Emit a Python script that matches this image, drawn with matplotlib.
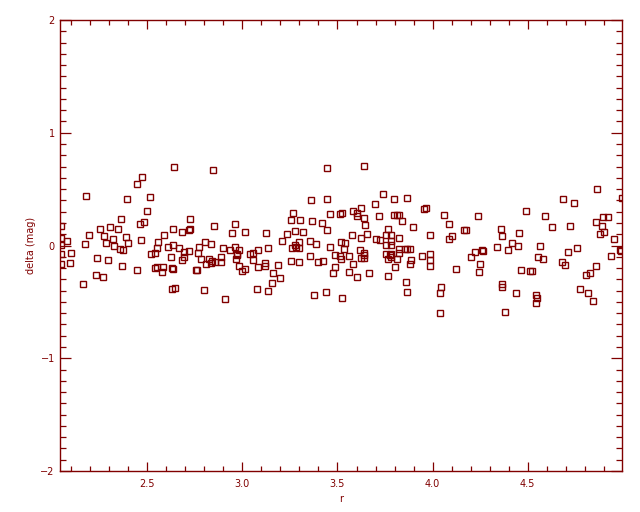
import matplotlib
matplotlib.use("Agg")
import matplotlib.pyplot as plt
from matplotlib.ticker import MultipleLocator, FixedLocator

# ---- data ----
r = [
    # 2.0 - 2.5
    2.474, 2.447, 2.179, 2.395, 2.516, 2.500, 2.363, 2.482, 2.463, 2.044,
    2.305, 2.253, 2.347, 2.195, 2.274, 2.389, 2.321, 2.468, 2.045, 2.079,
    2.174, 2.284, 2.400, 2.045, 2.326, 2.358, 2.370, 2.098, 2.046, 2.521,
    2.237, 2.295, 2.095, 2.045, 2.368, 2.447, 2.232, 2.268, 2.163,
    # 2.5 - 3.0
    2.642, 2.847, 2.726, 2.637, 2.721, 2.726, 2.684, 2.853, 2.963, 2.947,
    3.016, 2.589, 2.558, 2.805, 2.837, 2.637, 2.610, 2.553, 2.668, 2.774,
    2.900, 2.963, 2.937, 2.984, 2.721, 2.695, 2.768, 2.542, 2.970, 2.974,
    2.626, 2.695, 2.889, 2.684, 2.784, 2.826, 2.842, 2.810, 2.837, 2.858,
    2.889, 2.968, 2.984, 3.014, 3.000, 2.542, 2.553, 2.584, 2.579, 2.632,
    2.635, 2.754, 2.763, 2.632, 2.647, 2.800, 2.910,
    # 3.0 - 3.5
    3.447, 3.358, 3.447, 3.268, 3.253, 3.305, 3.463, 3.511, 3.523, 3.368,
    3.416, 3.447, 3.279, 3.321, 3.237, 3.126, 3.210, 3.295, 3.353, 3.389,
    3.521, 3.084, 3.132, 3.263, 3.274, 3.281, 3.300, 3.463, 3.042, 3.053,
    3.353, 3.488, 3.511, 3.521, 3.053, 3.253, 3.295, 3.395, 3.426, 3.121,
    3.121, 3.189, 3.084, 3.488, 3.163, 3.200, 3.474, 3.153, 3.074, 3.132,
    3.374, 3.437, 3.523,
    # 3.5 - 4.0
    3.642, 3.737, 3.795, 3.868, 3.695, 3.626, 3.584, 3.602, 3.605, 3.637,
    3.716, 3.795, 3.811, 3.826, 3.837, 3.953, 3.963, 3.647, 3.895, 3.768,
    3.574, 3.621, 3.653, 3.756, 3.779, 3.821, 3.984, 3.700, 3.726, 3.542,
    3.784, 3.753, 3.784, 3.532, 3.616, 3.826, 3.853, 3.868, 3.879, 3.642,
    3.637, 3.753, 3.774, 3.784, 3.779, 3.826, 3.558, 3.942, 3.989, 3.989,
    3.989, 3.626, 3.642, 3.768, 3.811, 3.889, 3.879, 3.584, 3.805, 3.563,
    3.668, 3.605, 3.768, 3.858, 3.868,
    # 4.0 - 4.5
    4.058, 4.237, 4.489, 4.089, 4.168, 4.174, 4.358, 4.100, 4.089, 4.363,
    4.453, 4.416, 4.447, 4.337, 4.395, 4.221, 4.258, 4.263, 4.200, 4.247,
    4.242, 4.121, 4.463, 4.510, 4.521, 4.042, 4.037, 4.363, 4.363, 4.437,
    4.379, 4.037,
    # 4.5 - 5.0
    4.863, 4.684, 4.742, 4.995, 4.589, 4.895, 4.921, 4.858, 4.626, 4.721,
    4.889, 4.900, 4.879, 4.953, 4.563, 4.758, 4.710, 4.984, 4.991, 4.553,
    4.579, 4.937, 4.679, 4.695, 4.858, 4.826, 4.805, 4.774, 4.816, 4.842,
    4.542, 4.547, 4.542,
]
delta = [
    0.611, 0.548, 0.442, 0.415, 0.433, 0.309, 0.238, 0.212, 0.194, 0.173,
    0.167, 0.149, 0.149, 0.096, 0.087, 0.079, 0.061, 0.052, 0.070, 0.043,
    0.017, 0.025, 0.020, 0.008, -0.007, -0.028, -0.037, -0.063, -0.072, -0.078,
    -0.108, -0.125, -0.152, -0.161, -0.178, -0.214, -0.264, -0.276, -0.338,
    0.699, 0.673, 0.238, 0.150, 0.135, 0.144, 0.123, 0.176, 0.194, 0.114,
    0.123, 0.096, 0.034, 0.034, 0.017, 0.008, -0.010, -0.019, -0.019, -0.010,
    -0.019, -0.016, -0.037, -0.037, -0.046, -0.060, -0.063, -0.063, -0.075, -0.087,
    -0.099, -0.104, -0.099, -0.125, -0.116, -0.116, -0.134, -0.161, -0.152, -0.149,
    -0.143, -0.116, -0.178, -0.205, -0.223, -0.196, -0.187, -0.187, -0.232, -0.199,
    -0.205, -0.214, -0.214, -0.382, -0.374, -0.391, -0.471,
    0.690, 0.407, 0.415, 0.291, 0.229, 0.229, 0.283, 0.283, 0.291, 0.220,
    0.203, 0.141, 0.132, 0.123, 0.105, 0.114, 0.043, 0.034, 0.043, 0.017,
    0.034, -0.037, -0.019, -0.019, 0.008, -0.010, -0.019, -0.010, -0.072, -0.063,
    -0.090, -0.081, -0.090, -0.116, -0.125, -0.134, -0.143, -0.143, -0.134, -0.152,
    -0.178, -0.170, -0.187, -0.187, -0.241, -0.285, -0.241, -0.329, -0.382, -0.400,
    -0.436, -0.409, -0.462,
    0.708, 0.460, 0.415, 0.424, 0.371, 0.336, 0.309, 0.291, 0.262, 0.247,
    0.265, 0.274, 0.274, 0.274, 0.220, 0.327, 0.336, 0.185, 0.167, 0.149,
    0.096, 0.070, 0.105, 0.096, 0.096, 0.070, 0.096, 0.061, 0.052, 0.025,
    0.043, 0.008, 0.008, -0.028, -0.037, -0.028, -0.028, -0.028, -0.028, -0.063,
    -0.081, -0.072, -0.081, -0.072, -0.099, -0.063, -0.090, -0.090, -0.072, -0.125,
    -0.178, -0.108, -0.108, -0.116, -0.116, -0.125, -0.161, -0.161, -0.187, -0.232,
    -0.241, -0.276, -0.267, -0.320, -0.409,
    0.274, 0.265, 0.309, 0.194, 0.141, 0.141, 0.149, 0.087, 0.061, 0.087,
    0.114, 0.025, -0.001, -0.010, -0.037, -0.054, -0.037, -0.046, -0.099, -0.161,
    -0.232, -0.205, -0.214, -0.223, -0.223, -0.365, -0.418, -0.338, -0.365, -0.418,
    -0.586, -0.595,
    0.504, 0.415, 0.380, 0.424, 0.265, 0.256, 0.256, 0.212, 0.167, 0.176,
    0.176, 0.123, 0.105, 0.061, -0.001, -0.019, -0.054, -0.037, -0.046, -0.099,
    -0.116, -0.090, -0.143, -0.170, -0.178, -0.241, -0.258, -0.382, -0.418, -0.489,
    -0.436, -0.462, -0.506,
]
x_ticks = [2.5, 3.0, 3.5, 4.0, 4.5]
x_tick_labels = ["2.5", "3.0", "3.5", "4.0", "4.5"]
y_ticks = [-2, -1, 0, 1, 2]
y_tick_labels = ["\u22122", "\u22121", "0", "1", "2"]
x_label = "r"
y_label = "delta (mag)"

# ---- style ----
RED = "#800000"
plt.rcParams["font.family"] = ["DejaVu Sans"]

fig = plt.figure(figsize=(6.4, 5.12), dpi=100)
fig.patch.set_facecolor("white")
ax = fig.add_axes([60.3 / 640, 41 / 512, 562 / 640, 451 / 512])

ax.plot(r, delta, linestyle="none", marker="s", markersize=4.3,
        markerfacecolor="none", markeredgecolor=RED, markeredgewidth=1.0,
        clip_on=True)

ax.set_xlim(2.042, 4.998)
ax.set_ylim(-2, 2)

ax.xaxis.set_major_locator(FixedLocator(x_ticks))
ax.set_xticklabels(x_tick_labels)
ax.xaxis.set_minor_locator(MultipleLocator(0.1))
ax.yaxis.set_major_locator(FixedLocator(y_ticks))
ax.set_yticklabels(y_tick_labels)
ax.yaxis.set_minor_locator(MultipleLocator(0.1))

for s in ax.spines.values():
    s.set_color(RED)
    s.set_linewidth(1.0)

ax.tick_params(axis="x", which="major", direction="in", length=6.6, width=0.9,
               color=RED, labelcolor=RED, labelsize=7, pad=6,
               top=True, bottom=True)
ax.tick_params(axis="x", which="minor", direction="in", length=3.3, width=0.9,
               color=RED, top=True, bottom=True)
ax.tick_params(axis="y", which="major", direction="in", length=8.0, width=0.9,
               color=RED, labelcolor=RED, labelsize=7, pad=4,
               left=True, right=True)
ax.tick_params(axis="y", which="minor", direction="in", length=4.0, width=0.9,
               color=RED, left=True, right=True)

ax.set_xlabel(x_label, color=RED, fontsize=7, labelpad=3)
ax.set_ylabel(y_label, color=RED, fontsize=7, labelpad=3)

fig.savefig("out.png", dpi=100, facecolor="white")
